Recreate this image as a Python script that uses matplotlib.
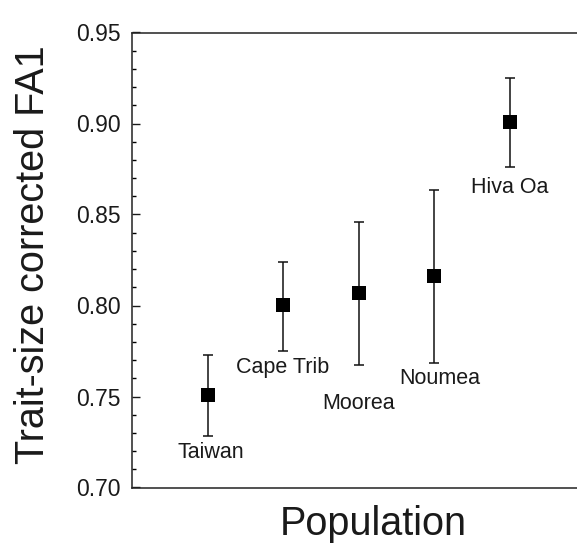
import matplotlib
matplotlib.use("Agg")
import matplotlib.pyplot as plt
from matplotlib.ticker import MultipleLocator, FormatStrFormatter

populations = ["Taiwan", "Cape Trib", "Moorea", "Noumea", "Hiva Oa"]
means = [0.7508, 0.8001, 0.8067, 0.8162, 0.9010]
upper = [0.7728, 0.8241, 0.8457, 0.8636, 0.9252]
lower = [0.7285, 0.7752, 0.7673, 0.7682, 0.8759]

# label offsets (pixels) relative to lower error-bar end
label_dx = [3, -1, 0, 5, 0]
label_dy = [-17, -17, -38, -15, -20]

plt.rcParams['font.family'] = ['Liberation Sans', 'DejaVu Sans']

W, H = 577, 544
fig = plt.figure(figsize=(W / 100, H / 100), dpi=100)
ax = fig.add_axes([132 / W, (H - 487.5) / H, (W - 132) / W, (487.5 - 32.5) / H])

xs = list(range(1, len(populations) + 1))
err_lo = [m - l for m, l in zip(means, lower)]
err_hi = [u - m for m, u in zip(means, upper)]
ax.errorbar(xs, means, yerr=[err_lo, err_hi], fmt='none',
            ecolor='#111111', elinewidth=1.1, capsize=3.5, capthick=1.1)
ax.plot(xs, means, 's', color='black', markersize=10, markeredgewidth=0,
        linestyle='none', zorder=3)

for x, lo, name, dx, dy in zip(xs, lower, populations, label_dx, label_dy):
    ax.annotate(name, xy=(x, lo), xytext=(dx, dy), textcoords='offset pixels',
                ha='center', va='center', fontsize=15.5, color='#1a1a1a')

ax.set_xlim(0, 5.885)
ax.set_ylim(0.70, 0.95)
ax.yaxis.set_major_locator(MultipleLocator(0.05))
ax.yaxis.set_minor_locator(MultipleLocator(0.01))
ax.yaxis.set_major_formatter(FormatStrFormatter('%.2f'))
ax.set_xticks([])
ax.tick_params(axis='y', which='major', direction='in', length=6, width=1.0,
               labelsize=16.5, pad=8, colors='#1a1a1a')
ax.tick_params(axis='y', which='minor', direction='in', length=3, width=1.0)
ax.spines['right'].set_visible(False)
for s in ['top', 'left', 'bottom']:
    ax.spines[s].set_linewidth(1.1)
    ax.spines[s].set_color('#222222')

fig.text(33 / W, 1 - 255 / H, "Trait-size corrected FA1", rotation=90,
         ha='center', va='center', fontsize=28.5, color='#1a1a1a')
fig.text(373 / W, 1 - 524 / H, "Population", ha='center', va='center',
         fontsize=28.5, color='#1a1a1a')

fig.savefig("out.png", dpi=100)
